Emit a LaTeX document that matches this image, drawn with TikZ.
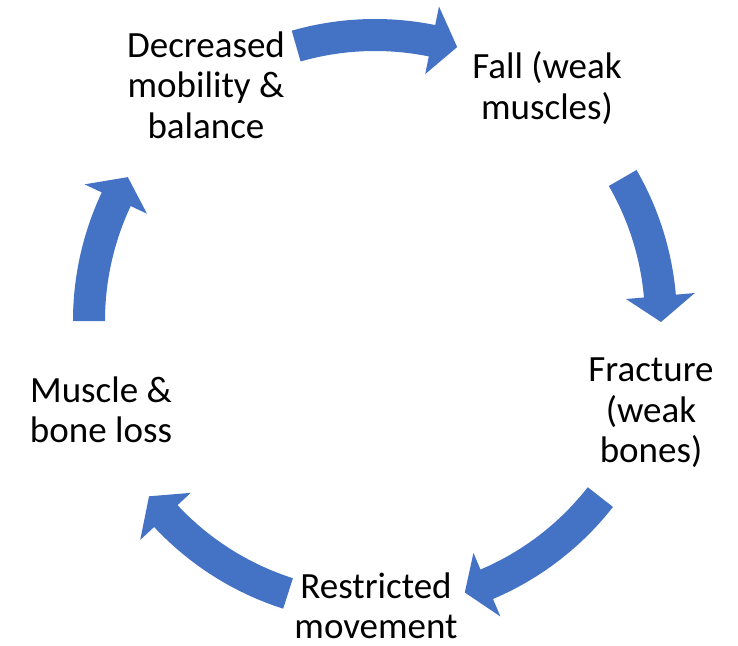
\documentclass[tikz,border=0pt]{standalone}
\usepackage{fontspec}
\setmainfont{Carlito}
\definecolor{cycblue}{HTML}{4472C4}
\newcommand\cycarrow[3]{%
  \fill[cycblue] (#1:302pt) arc[start angle=#1, end angle=#2, radius=302pt]
    -- (#2:321pt) -- (#3:286pt) -- (#2:252pt) -- (#2:270pt)
    arc[start angle=#2, end angle=#1, radius=270pt] -- cycle;}
\tikzset{lbl/.style={align=center, inner sep=0pt, font=\fontsize{37}{40.5}\selectfont}}
\begin{document}
\begin{tikzpicture}
\useasboundingbox (-375pt,-324pt) rectangle (363pt,321pt);
\cycarrow{106}{78.5}{73.3}
\cycarrow{30}{5}{-0.2}
\cycarrow{-38}{-67}{-71.7}
\cycarrow{-107.7}{-137}{-142.2}
\cycarrow{-180}{-205.2}{-210.2}
\node[lbl] (dec) at (-169pt,236pt) {Decreased\\mobility \&\\balance};
\node[lbl] (fall) at (172pt,233pt) {Fall (weak\\muscles)};
\node[lbl] (frac) at (276pt,-92pt) {Fracture\\(weak\\bones)};
\node[lbl] (restr) at (1pt,-285pt) {Restricted\\movement};
\node[lbl] (musc) at (-274pt,-89pt) {Muscle \&\\bone loss};
\end{tikzpicture}
\end{document}
